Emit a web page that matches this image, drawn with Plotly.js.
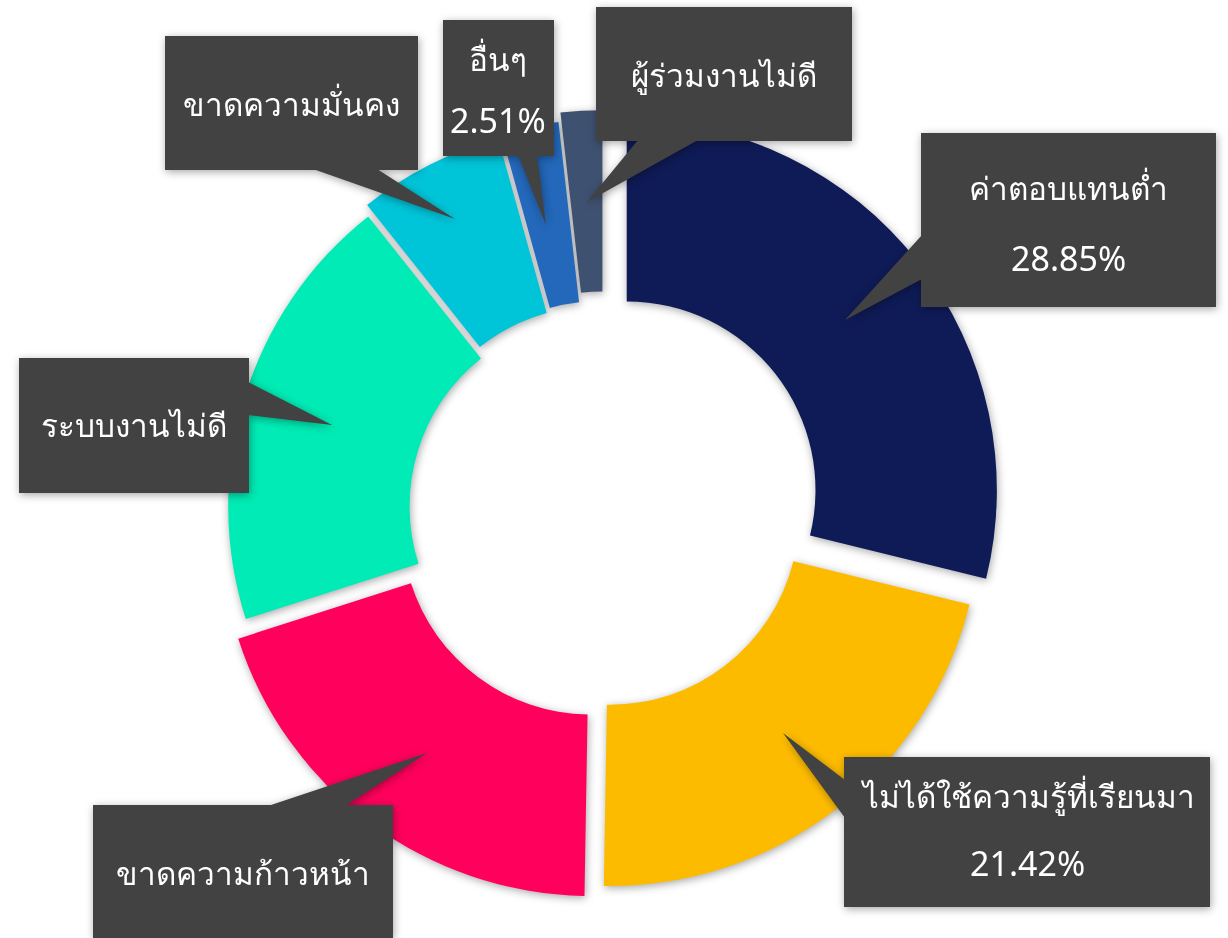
<!DOCTYPE html>
<html>
<head>
<meta charset="utf-8">
<script src="https://cdn.plot.ly/plotly-3.0.1.min.js"></script>
<style>
  html, body { margin: 0; padding: 0; background: #ffffff; }
  #chart { width: 1228px; height: 938px; }
  #chart .main-svg { filter: drop-shadow(1px 2px 4px rgba(0,0,0,0.35)); }
</style>
</head>
<body>
<div id="chart"></div>
<script>
// ---- data ----
var labels = ["ค่าตอบแทนต่ำ", "ไม่ได้ใช้ความรู้ที่เรียนมา", "ขาดความก้าวหน้า", "ระบบงานไม่ดี", "ขาดความมั่นคง", "อื่นๆ", "ผู้ร่วมงานไม่ดี"];
var values = [28.85, 21.42, 19.8, 19.25, 6.36, 2.51, 1.81];
var showPercent = [true, true, false, false, false, true, false];
var colors = ["#0F1B57", "#FDBB00", "#FF005C", "#00EBB5", "#00C4D8", "#2368BA", "#3E5170"];
var pulls = [0.078, 0.027, 0.06, 0.016, 0.04, 0.05, 0.075];

// ---- layout helpers (pixel -> paper) ----
var W = 1228, H = 938;
function px(x) { return x / W; }
function py(y) { return 1 - y / H; }

// callout geometry (pixels): box [x0,y0,x1,y1], tail [[ax,ay],[bx,by],[tipx,tipy]], text line centres
var callouts = [
  {box: [921, 133, 1216, 307], tail: [[922, 235], [922, 279], [845, 320]], lines: [[1068, 188], [1068, 258]]},
  {box: [844, 757, 1210, 907], tail: [[845, 780], [845, 818], [783, 733]], lines: [[1027, 795], [1027, 863]]},
  {box: [93, 805, 393, 945],  tail: [[268, 806], [345, 806], [427, 753]], lines: [[243, 872]]},
  {box: [19, 358, 249, 493],  tail: [[248, 382], [248, 415], [332, 425]], lines: [[134, 425]]},
  {box: [165, 36, 418, 170],  tail: [[313, 169], [377, 169], [455, 219]], lines: [[291, 103]]},
  {box: [443, 20, 554, 156],  tail: [[518, 155], [537, 155], [546, 225]], lines: [[498, 58], [498, 120]]},
  {box: [596, 7, 852, 141],   tail: [[638, 140], [698, 140], [587, 202]], lines: [[724, 75]]}
];

var boxColor = "#424242";
var shapes = [];
var annotations = [];
var labelFont = {family: "Noto Sans, Open Sans, sans-serif", size: 31.5, color: "#ffffff"};
var pctFont = {family: "Noto Sans, Open Sans, sans-serif", size: 34, color: "#ffffff"};

callouts.forEach(function (c, i) {
  shapes.push({
    type: "path", xref: "paper", yref: "paper", layer: "above",
    path: "M " + px(c.tail[0][0]) + "," + py(c.tail[0][1]) +
          " L " + px(c.tail[2][0]) + "," + py(c.tail[2][1]) +
          " L " + px(c.tail[1][0]) + "," + py(c.tail[1][1]) + " Z",
    fillcolor: boxColor, line: {width: 0}
  });
  shapes.push({
    type: "rect", xref: "paper", yref: "paper", layer: "above",
    x0: px(c.box[0]), x1: px(c.box[2]), y0: py(c.box[3]), y1: py(c.box[1]),
    fillcolor: boxColor, line: {width: 0}
  });
  var texts = [labels[i]];
  if (showPercent[i]) texts.push(values[i].toFixed(2) + "%");
  texts.forEach(function (t, k) {
    var pos = c.lines[k];
    annotations.push({
      xref: "paper", yref: "paper", x: px(pos[0]), y: py(pos[1]),
      xanchor: "center", yanchor: "middle", showarrow: false,
      text: t, font: k === 0 ? labelFont : pctFont
    });
  });
});

var trace = {
  type: "pie",
  labels: labels,
  values: values,
  sort: false,
  direction: "clockwise",
  rotation: 0,
  hole: 0.51,
  pull: pulls,
  marker: {colors: colors, line: {width: 0}},
  textinfo: "none",
  hoverinfo: "none",
  domain: {x: [205 / W, 1003 / W], y: [1 - 907 / H, 1 - 109 / H]}
};

var layout = {
  width: W, height: H,
  margin: {l: 0, r: 0, t: 0, b: 0},
  paper_bgcolor: "rgba(0,0,0,0)",
  plot_bgcolor: "rgba(0,0,0,0)",
  showlegend: false,
  shapes: shapes,
  annotations: annotations
};

Plotly.newPlot("chart", [trace], layout, {displayModeBar: false, staticPlot: true});
</script>
</body>
</html>
